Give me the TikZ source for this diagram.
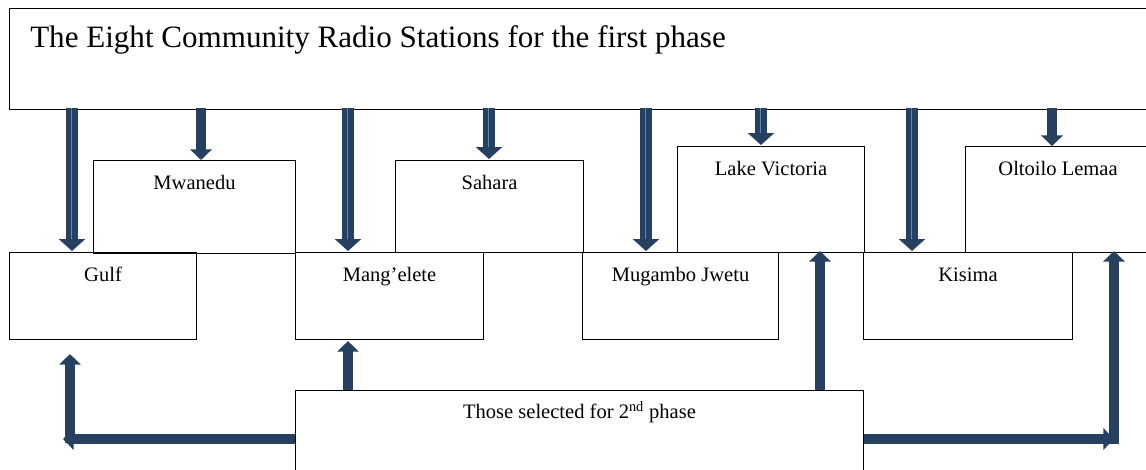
\documentclass[tikz,border=0pt]{standalone}
\usepackage{fontspec}
\setmainfont{Liberation Serif}
\usetikzlibrary{arrows.meta}

\definecolor{navy}{RGB}{38,64,96}
\definecolor{shaftline}{RGB}{88,134,204}

\begin{document}
\begin{tikzpicture}[x=0.75pt,y=-0.75pt,
  box/.style={draw,line width=0.8pt,inner sep=0pt,anchor=north west},
  wh/.style 2 args={minimum width=#1*0.75pt,minimum height=#2*0.75pt},
  lbl/.style={anchor=base,inner sep=0pt,font=\fontsize{15.4}{18}\selectfont},
  bigarr/.style={navy,line width=9pt,-{Triangle[width=19.5pt,length=9pt]}},
  arr/.style={navy,line width=7.5pt,-{Triangle[width=16pt,length=8pt]}},
  shine/.style={shaftline,line width=1pt}]

  \clip (0,0) rectangle (1146,469);

  % first phase boxes
  \node[box,wh={1141}{101}] (top)     at (9,8)     {};
  \node[box,wh={202}{93}]   (mwanedu) at (93,160)  {};
  \node[box,wh={188}{92}]   (sahara)  at (395,160) {};
  \node[box,wh={187}{106}]  (lake)    at (677,146) {};
  \node[box,wh={185}{106}]  (oltoilo) at (965,146) {};
  \node[box,wh={187}{87}]   (gulf)    at (9,252)   {};
  \node[box,wh={188}{87}]   (mang)    at (295,252) {};
  \node[box,wh={196}{87}]   (mugambo) at (582,252) {};
  \node[box,wh={209}{87}]   (kisima)  at (863,252) {};
  \node[box,wh={568}{90}]   (second)  at (295,390) {};

  \node[anchor=base west,inner sep=0pt,font=\fontsize{23.3}{27}\selectfont] (top-t)
    at ([xshift=15.75pt,yshift=-29.25pt]top.north west)
    {The Eight Community Radio Stations for the first phase};
  \node[lbl] (mwanedu-t) at ([yshift=-21.75pt]mwanedu.north) {Mwanedu};
  \node[lbl] (sahara-t)  at ([yshift=-21.75pt]sahara.north)  {Sahara};
  \node[lbl] (lake-t)    at ([yshift=-21.75pt]lake.north)    {Lake Victoria};
  \node[lbl] (oltoilo-t) at ([yshift=-21.75pt]oltoilo.north) {Oltoilo Lemaa};
  \node[lbl] (gulf-t)    at ([yshift=-21.75pt]gulf.north)    {Gulf};
  \node[lbl] (mang-t)    at ([yshift=-21.75pt]mang.north)    {Mang’elete};
  \node[lbl] (mugambo-t) at ([yshift=-21.75pt]mugambo.north) {Mugambo Jwetu};
  \node[lbl] (kisima-t)  at ([yshift=-21.75pt]kisima.north)  {Kisima};
  \node[lbl] (second-t)  at ([yshift=-21pt]second.north)
    {Those selected for 2\textsuperscript{nd} phase};

  % arrow columns
  \coordinate (c1) at (72,0);   \coordinate (c2) at (201,0);
  \coordinate (c3) at (348,0);  \coordinate (c4) at (489,0);
  \coordinate (c5) at (646,0);  \coordinate (c6) at (761,0);
  \coordinate (c7) at (912,0);  \coordinate (c8) at (1052,0);
  \coordinate (c9) at (820,0);  \coordinate (c10) at (70,0);
  \coordinate (c11) at (1114,0);
  \coordinate (lt) at (63,439); \coordinate (rt) at (1114,439);

  % down from the top box
  \foreach \c/\b in {c1/gulf,c3/mang,c4/sahara,c5/mugambo,c6/lake,c7/kisima}{
    \draw[bigarr] ([yshift=1.5pt]top.south -| \c) -- ([yshift=0.75pt]\b.north -| \c);
    \draw[shine] ([yshift=1.5pt,xshift=-0.6pt]top.south -| \c)
      -- ([yshift=9.75pt,xshift=-0.6pt]\b.north -| \c);
  }
  \draw[arr] ([yshift=1.5pt]top.south -| c2) -- (mwanedu.north -| c2);
  \draw[arr] ([yshift=1.5pt]top.south -| c8) -- (oltoilo.north -| c8);

  % up from the second phase box
  \draw[arr] (second.north -| c3) -- ([yshift=-0.75pt]mang.south -| c3);
  \draw[arr] (second.north -| c9) -- ([yshift=0.75pt]mugambo.north -| c9);
  \draw[arr] (second.west |- lt) -- (lt);
  \draw[arr] ([yshift=-3pt]lt -| c10) -- ([yshift=-10.5pt]gulf.south -| c10);
  \draw[arr] (second.east |- rt) -- (rt);
  \draw[arr] ([yshift=-3.75pt]rt) -- ([yshift=0.75pt]kisima.north -| c11);
\end{tikzpicture}
\end{document}
